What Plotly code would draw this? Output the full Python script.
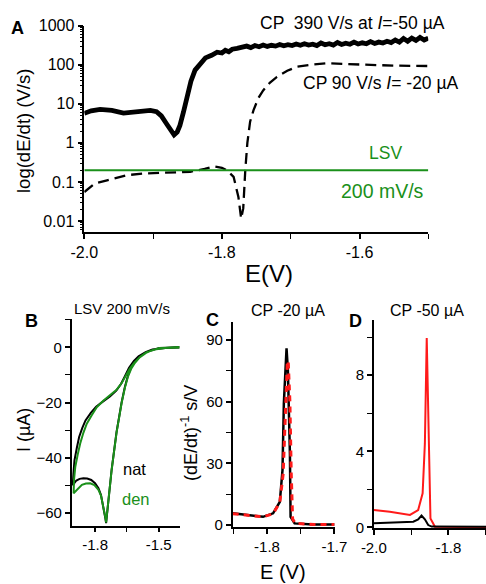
import plotly.graph_objects as go

W, H = 486, 584

# ---------------- data ----------------
# Panel A: CP 390 V/s at I=-50 uA (log dE/dt)
a_cp390_E = [-2.000, -1.990, -1.977, -1.960, -1.943, -1.925, -1.904, -1.895, -1.888, -1.880,
             -1.874, -1.8695, -1.865, -1.861, -1.856, -1.851, -1.845, -1.839, -1.832, -1.824,
             -1.815, -1.807, -1.800, -1.795, -1.790, -1.785, -1.778,
             -1.770, -1.764, -1.758, -1.752, -1.746, -1.740, -1.734, -1.728, -1.722, -1.716,
             -1.710, -1.704, -1.698, -1.692, -1.686, -1.680, -1.674, -1.668, -1.662, -1.656,
             -1.650, -1.644, -1.638, -1.632, -1.626, -1.620, -1.614, -1.608, -1.602, -1.596,
             -1.590, -1.584, -1.578, -1.572, -1.566, -1.560, -1.554, -1.548, -1.542, -1.536,
             -1.530, -1.524, -1.518, -1.512, -1.506, -1.500]
a_cp390_V = [5.7, 6.6, 7.2, 6.8, 5.8, 6.3, 6.8, 6.3, 4.9, 3.0,
             2.0, 1.6, 1.9, 2.8, 6.0, 15, 38, 73, 108, 150,
             175, 210, 200, 235, 215, 250, 262,
             280, 300, 275, 310, 290, 320, 295, 315, 300, 330,
             305, 325, 310, 340, 315, 345, 320, 335, 310, 360,
             325, 345, 320, 370, 330, 355, 335, 380, 340, 365,
             345, 390, 350, 380, 360, 400, 370, 430, 380, 470,
             400, 480, 420, 500, 430, 480]

# Panel A: CP 90 V/s at I=-20 uA
a_cp90_E = [-2.000, -1.985, -1.967, -1.938, -1.914, -1.890, -1.870, -1.846, -1.825, -1.812,
            -1.800, -1.793, -1.783, -1.776, -1.772, -1.769, -1.766, -1.763, -1.759, -1.754,
            -1.747, -1.740, -1.730, -1.720, -1.705, -1.691, -1.670, -1.647, -1.620, -1.589,
            -1.550, -1.500]
a_cp90_V = [0.055, 0.091, 0.11, 0.149, 0.164, 0.168, 0.17, 0.182, 0.215, 0.25,
            0.23, 0.2, 0.135, 0.041, 0.0115, 0.021, 0.2, 1.0, 3.5, 6.9,
            14, 22, 35, 49, 70, 89, 100, 109, 104, 98,
            95, 93]

# Panel A: LSV 200 mV/s
a_lsv_E = [-2.0, -1.5]
a_lsv_V = [0.2, 0.2]

# Panel B: LSV 200 mV/s, current (uA)
b_den_E = [-1.403, -1.497, -1.559, -1.590, -1.612, -1.629, -1.645, -1.660, -1.675, -1.699,
           -1.722, -1.738, -1.744, -1.748, -1.752, -1.761, -1.772, -1.784, -1.803, -1.823,
           -1.843, -1.862, -1.882, -1.901,
           -1.899, -1.893, -1.882, -1.870, -1.855, -1.839, -1.815, -1.792, -1.760, -1.730,
           -1.700, -1.675, -1.655, -1.637, -1.615, -1.590, -1.560, -1.528, -1.470, -1.403]
b_den_I = [0.0, -0.2, -1.8, -3.6, -5.6, -7.6, -10.6, -14.8, -20.2, -31.0,
           -44.5, -55.5, -60.5, -63.5, -61.5, -57.5, -53.8, -51.7, -50.0, -49.3,
           -49.4, -49.9, -51.3, -52.9,
           -48.0, -43.3, -39.0, -34.9, -31.0, -27.7, -24.5, -21.7, -19.3, -17.4,
           -15.5, -13.0, -10.2, -7.8, -5.5, -3.6, -2.0, -0.9, -0.2, 0.0]
b_nat_E = [-1.403, -1.497, -1.559, -1.590, -1.612, -1.629, -1.645, -1.660, -1.675, -1.699,
           -1.722, -1.738, -1.744, -1.748, -1.752, -1.761, -1.772, -1.784, -1.800, -1.818,
           -1.837, -1.855, -1.873, -1.888, -1.905,
           -1.902, -1.897, -1.886, -1.875, -1.860, -1.845, -1.820, -1.795, -1.762, -1.730,
           -1.700, -1.678, -1.660, -1.640, -1.617, -1.595, -1.562, -1.530, -1.470, -1.403]
b_nat_I = [0.0, -0.2, -1.6, -3.2, -5.1, -7.1, -10.2, -14.5, -20.0, -30.8,
           -44.4, -55.5, -60.7, -63.8, -61.8, -57.8, -53.6, -51.1, -49.3, -48.1,
           -47.6, -47.5, -47.7, -48.3, -50.0,
           -46.0, -41.0, -36.5, -32.5, -29.2, -26.5, -23.8, -21.5, -19.6, -17.8,
           -15.7, -13.3, -10.5, -7.4, -4.9, -3.2, -1.7, -0.8, -0.2, 0.0]

# Panel C: CP -20 uA, (dE/dt)^-1 s/V
c_nat_E = [-1.851, -1.826, -1.806, -1.791, -1.781, -1.777, -1.775, -1.771, -1.769, -1.766,
           -1.765, -1.759, -1.732, -1.700]
c_nat_V = [5.7, 4.9, 4.0, 5.7, 11.3, 26.7, 59.2, 86.0, 75.4, 34.9,
           4.0, 0.8, 0.3, 0.3]
c_den_E = [-1.851, -1.826, -1.806, -1.791, -1.781, -1.776, -1.773, -1.770, -1.7685, -1.766,
           -1.764, -1.762, -1.758, -1.730, -1.700]
c_den_V = [5.5, 4.8, 4.0, 5.5, 11.0, 25.0, 55.0, 78.0, 80.0, 60.0,
           25.0, 3.0, 0.8, 0.3, 0.3]

# Panel D: CP -50 uA
d_den_E = [-2.000, -1.957, -1.903, -1.881, -1.869, -1.863, -1.858, -1.855, -1.851, -1.848,
           -1.836, -1.699]
d_den_V = [0.91, 0.82, 0.65, 0.91, 1.79, 4.4, 9.95, 7.05, 2.66, 0.47,
           0.03, 0.0]
d_nat_E = [-2.000, -1.939, -1.894, -1.881, -1.872, -1.863, -1.854, -1.845, -1.699]
d_nat_V = [0.21, 0.24, 0.30, 0.42, 0.62, 0.42, 0.12, 0.04, 0.03]

# tick labels
a_xticks = [-2.0, -1.8, -1.6]
a_xticktext = ["-2.0", "-1.8", "-1.6"]
a_yticks = [0.01, 0.1, 1, 10, 100, 1000]
a_yticktext = ["0.01", "0.1", "1", "10", "100", "1000"]
b_xticks = [-1.8, -1.5]
b_yticks = [0, -20, -40, -60]
c_xticks = [-1.8, -1.7]
c_yticks = [0, 30, 60, 90]
d_xticks = [-2.0, -1.8]
d_yticks = [0, 4, 8]

# ---------------- figure ----------------
BLACK = "#000000"
GREEN = "#1a901a"
RED = "#ff1a1a"
FONT = "Liberation Sans, Arial, sans-serif"


def fx(x):
    return x / W


def fy(y):
    return 1 - y / H


fig = go.Figure()

# Panel A
fig.add_trace(go.Scatter(x=a_cp390_E, y=a_cp390_V, mode="lines",
                         line=dict(color=BLACK, width=4.8), xaxis="x", yaxis="y"))
fig.add_trace(go.Scatter(x=a_cp90_E, y=a_cp90_V, mode="lines",
                         line=dict(color=BLACK, width=2.3, dash="11px,6px"), xaxis="x", yaxis="y"))
fig.add_trace(go.Scatter(x=a_lsv_E, y=a_lsv_V, mode="lines",
                         line=dict(color=GREEN, width=2), xaxis="x", yaxis="y"))

# Panel B
fig.add_trace(go.Scatter(x=b_nat_E, y=b_nat_I, mode="lines",
                         line=dict(color=BLACK, width=2), xaxis="x2", yaxis="y2"))
fig.add_trace(go.Scatter(x=b_den_E, y=b_den_I, mode="lines",
                         line=dict(color=GREEN, width=2), xaxis="x2", yaxis="y2"))

# Panel C
fig.add_trace(go.Scatter(x=c_nat_E, y=c_nat_V, mode="lines",
                         line=dict(color=BLACK, width=2.5), xaxis="x3", yaxis="y3"))
fig.add_trace(go.Scatter(x=c_den_E, y=c_den_V, mode="lines",
                         line=dict(color=RED, width=3, dash="6px,5px"), xaxis="x3", yaxis="y3"))

# Panel D
fig.add_trace(go.Scatter(x=d_den_E, y=d_den_V, mode="lines",
                         line=dict(color=RED, width=2), xaxis="x4", yaxis="y4"))
fig.add_trace(go.Scatter(x=d_nat_E, y=d_nat_V, mode="lines",
                         line=dict(color=BLACK, width=2), xaxis="x4", yaxis="y4"))

axis_common = dict(showline=True, linecolor=BLACK, linewidth=1.5, ticks="outside",
                   ticklen=5, tickwidth=1.5, tickcolor=BLACK, showgrid=False,
                   zeroline=False, mirror=False, automargin=False,
                   tickfont=dict(family=FONT, size=16, color=BLACK))
axis_small = dict(axis_common)
axis_small["tickfont"] = dict(family=FONT, size=15, color=BLACK)

fig.update_layout(
    width=W, height=H, margin=dict(l=0, r=0, t=0, b=0, autoexpand=False),
    paper_bgcolor="white", plot_bgcolor="white", showlegend=False,
    font=dict(family=FONT, color=BLACK),
    xaxis=dict(axis_common, domain=[fx(84.3), fx(428.3)], range=[-2.0, -1.5],
               tickvals=a_xticks, ticktext=a_xticktext, anchor="y",
               minor=dict(ticks="outside", ticklen=5, tickwidth=1.2, tickcolor=BLACK,
                          dtick=0.1, tick0=-2.0)),
    yaxis=dict(axis_common, domain=[fy(232.3), fy(25.7)], type="log", range=[-2.29, 3.0],
               tickvals=a_yticks, ticktext=a_yticktext, anchor="x",
               minor=dict(ticks="outside", ticklen=3, tickwidth=1, tickcolor=BLACK, dtick="D1")),
    xaxis2=dict(axis_small, domain=[fx(71.7), fx(180)], range=[-1.91, -1.40],
                tickvals=b_xticks, ticktext=["-1.8", "-1.5"], anchor="y2",
                minor=dict(ticks="outside", ticklen=5, tickwidth=1.2, tickcolor=BLACK,
                           dtick=0.15, tick0=-1.8)),
    yaxis2=dict(axis_small, domain=[fy(525.7), fy(319)], range=[-64.7, 10.3],
                tickvals=b_yticks, anchor="x2",
                minor=dict(ticks="outside", ticklen=5, tickwidth=1.2, tickcolor=BLACK,
                           dtick=10, tick0=0)),
    xaxis3=dict(axis_small, domain=[fx(232.7), fx(335)], range=[-1.851, -1.699],
                tickvals=c_xticks, ticktext=["-1.8", "-1.7"], anchor="y3",
                minor=dict(ticks="outside", ticklen=5, tickwidth=1.2, tickcolor=BLACK,
                           dtick=0.05, tick0=-1.8)),
    yaxis3=dict(axis_small, domain=[fy(527.3), fy(321.7)], range=[-1.1, 99],
                tickvals=c_yticks, anchor="x3",
                minor=dict(ticks="outside", ticklen=5, tickwidth=1.2, tickcolor=BLACK,
                           dtick=15, tick0=0)),
    xaxis4=dict(axis_small, domain=[fx(373.8), 1.0], range=[-2.0, -1.699],
                tickvals=d_xticks, ticktext=["-2.0", "-1.8"], anchor="y4",
                minor=dict(ticks="outside", ticklen=5, tickwidth=1.2, tickcolor=BLACK,
                           dtick=0.1, tick0=-2.0)),
    yaxis4=dict(axis_small, domain=[fy(528.3), fy(320)], range=[-0.05, 10.9],
                tickvals=d_yticks, anchor="x4",
                minor=dict(ticks="outside", ticklen=5, tickwidth=1.2, tickcolor=BLACK,
                           dtick=2, tick0=0)),
)


def note(text, x, y, size, color=BLACK, angle=0, bold=False):
    t = "<b>%s</b>" % text if bold else text
    fig.add_annotation(text=t, x=fx(x), y=fy(y), xref="paper", yref="paper",
                       showarrow=False, xanchor="center", yanchor="middle",
                       textangle=angle, font=dict(family=FONT, size=size, color=color))


# panel letters
note("A", 17.5, 28.3, 18, bold=True)
note("B", 31, 320.7, 18, bold=True)
note("C", 212.5, 320, 18, bold=True)
note("D", 355.5, 321, 18, bold=True)

# panel A texts
note("CP \u00a0390 V/s at <i>I</i>=-50 \u00b5A", 352.5, 23.3, 17.5)
note("CP 90 V/s <i>I</i>= -20 \u00b5A", 380.5, 83.3, 17.5)
note("LSV", 385, 153.3, 17.5, color=GREEN)
note("200 mV/s", 382, 190.7, 19.5, color=GREEN)
note("E(V)", 269, 273, 24)
note("log(dE/dt) (V/s)", 23, 131, 18.5, angle=-90)

# lower panel titles
note("LSV 200 mV/s", 122, 308, 15)
note("CP -20 \u00b5A", 288, 310, 16)
note("CP -50 \u00b5A", 426.7, 310, 16)
note("nat", 134.7, 469, 16.5)
note("den", 135.5, 499, 16.5, color=GREEN)
note("I (\u00b5A)", 24, 430, 18, angle=-90)
note("(dE/dt)<sup>-1</sup> s/V", 189, 433, 18, angle=-90)
note("E (V)", 283, 572, 20)

fig.write_html("out.html", config={"displayModeBar": False},
               post_script="document.body.style.margin='0';document.body.style.overflow='hidden';")
